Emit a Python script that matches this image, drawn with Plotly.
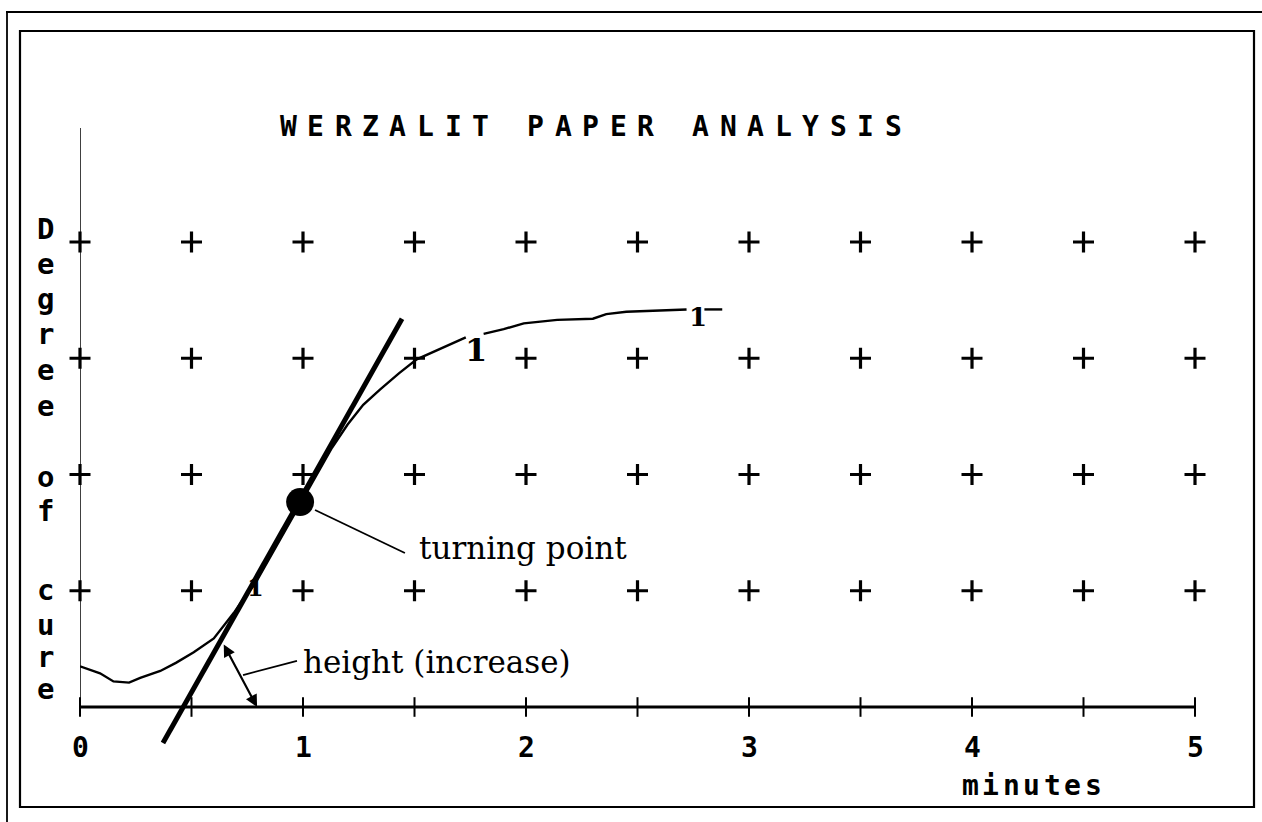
import plotly.graph_objects as go

# ---------------- data ----------------
title_text = "WERZALIT PAPER ANALYSIS"
x_title = "minutes"
y_title = "Degree of cure"

x_tick_values = [0, 1, 2, 3, 4, 5]
x_tick_labels = ["0", "1", "2", "3", "4", "5"]
grid_x = [0, 0.5, 1, 1.5, 2, 2.5, 3, 3.5, 4, 4.5, 5]
grid_y = [1, 2, 3, 4]

# cure curve (None = break around the "1" curve labels)
curve_x = [0.0, 0.05, 0.09, 0.15, 0.22, 0.27, 0.36, 0.43, 0.51, 0.60, 0.69, 0.74,
           0.785, 0.85, 0.92, 0.99, 1.06, 1.13, 1.20, 1.27, 1.345, 1.43, 1.51, 1.60,
           1.67, 1.73, None,
           1.81, 1.90, 1.99, 2.05, 2.14, 2.30, 2.36, 2.45, 2.59, 2.72, None,
           2.80, 2.88]
curve_y = [0.35, 0.32, 0.29, 0.22, 0.21, 0.25, 0.31, 0.38, 0.47, 0.59, 0.81, 0.95,
           1.06, 1.28, 1.52, 1.76, 2.00, 2.23, 2.43, 2.60, 2.73, 2.87, 2.99, 3.07,
           3.13, 3.18, None,
           3.21, 3.25, 3.30, 3.31, 3.33, 3.34, 3.38, 3.40, 3.41, 3.42, None,
           3.42, 3.42]

curve_label_x = [0.785, 1.776, 2.771]
curve_label_y = [1.03, 3.07, 3.355]
curve_label_text = ["1", "1", "1"]

tangent_x = [0.372, 1.444]
tangent_y = [-0.31, 3.34]

turning_x = [0.987]
turning_y = [1.763]

turning_leader_x = [1.054, 1.457]
turning_leader_y = [1.695, 1.325]
turning_label = "turning point"
turning_label_pos = (1.51, 1.37)

height_leader_x = [0.973, 0.731]
height_leader_y = [0.396, 0.275]
height_label = "height (increase)"
height_label_pos = (0.99, 0.385)
height_arrow_top = (0.641, 0.551)
height_arrow_bottom = (0.794, 0.0)

y_axis_top = 4.98

# ---------------- layout geometry ----------------
W, H = 1262, 822
PX_X0, PX_X5 = 80, 1195
PX_Y0, PX_Y4 = 707, 242
Y_MIN, Y_MAX = -0.6, 5.05
ppu_y = (PX_Y0 - PX_Y4) / 4.0
y_top_px = PX_Y0 - Y_MAX * ppu_y
y_bot_px = PX_Y0 - Y_MIN * ppu_y


def px(v):
    return v / W


def py(v):
    return 1 - v / H


MONO = "DejaVu Sans Mono"
SERIF = "DejaVu Serif"

fig = go.Figure()

# axis lines
fig.add_trace(go.Scatter(x=[0, 5], y=[0, 0], mode="lines",
                         line=dict(color="black", width=3), hoverinfo="skip"))
fig.add_trace(go.Scatter(x=[0, 0], y=[0, y_axis_top], mode="lines",
                         line=dict(color="black", width=1.5), hoverinfo="skip"))

# x tick marks on axis
fig.add_trace(go.Scatter(x=grid_x, y=[0] * len(grid_x), mode="markers",
                         marker=dict(symbol="line-ns", size=14,
                                     line=dict(color="black", width=2)),
                         hoverinfo="skip", cliponaxis=False))

# grid of plus signs
gx, gy = [], []
for yy in grid_y:
    for xx in grid_x:
        gx.append(xx)
        gy.append(yy)
fig.add_trace(go.Scatter(x=gx, y=gy, mode="markers",
                         marker=dict(symbol="cross-thin", size=15,
                                     line=dict(color="black", width=3.2)),
                         hoverinfo="skip", cliponaxis=False))

# curve
fig.add_trace(go.Scatter(x=curve_x, y=curve_y, mode="lines", connectgaps=False,
                         line=dict(color="black", width=2.4), hoverinfo="skip"))

# tangent
fig.add_trace(go.Scatter(x=tangent_x, y=tangent_y, mode="lines",
                         line=dict(color="black", width=5), hoverinfo="skip"))

# turning point
fig.add_trace(go.Scatter(x=turning_x, y=turning_y, mode="markers",
                         marker=dict(symbol="circle", size=28, color="black"),
                         hoverinfo="skip"))

# leader lines
fig.add_trace(go.Scatter(x=turning_leader_x, y=turning_leader_y, mode="lines",
                         line=dict(color="black", width=1.8), hoverinfo="skip"))
fig.add_trace(go.Scatter(x=height_leader_x, y=height_leader_y, mode="lines",
                         line=dict(color="black", width=1.8), hoverinfo="skip"))

annotations = []

# double-headed arrow for height
annotations.append(dict(x=height_arrow_bottom[0], y=height_arrow_bottom[1], xref="x", yref="y",
                        ax=height_arrow_top[0], ay=height_arrow_top[1], axref="x", ayref="y",
                        text="", showarrow=True, arrowhead=2, arrowsize=1.1, arrowwidth=2.2,
                        arrowside="end+start", arrowcolor="black"))

# annotation texts
annotations.append(dict(x=turning_label_pos[0], y=turning_label_pos[1], xref="x", yref="y",
                        text=turning_label, showarrow=False, xanchor="left", yanchor="middle",
                        font=dict(family=SERIF, size=31, color="black")))
annotations.append(dict(x=height_label_pos[0], y=height_label_pos[1], xref="x", yref="y",
                        text=height_label, showarrow=False, xanchor="left", yanchor="middle",
                        font=dict(family=SERIF, size=31, color="black")))

# curve labels "1"
label_sizes = [24, 32, 26]
for xx, yy, tt, ss in zip(curve_label_x, curve_label_y, curve_label_text, label_sizes):
    annotations.append(dict(x=xx, y=yy, xref="x", yref="y", text="<b>%s</b>" % tt,
                            showarrow=False, xanchor="center", yanchor="middle",
                            font=dict(family=SERIF, size=ss, color="black")))

# x tick labels
for v, t in zip(x_tick_values, x_tick_labels):
    annotations.append(dict(x=v, y=py(747), xref="x", yref="paper", text="<b>%s</b>" % t,
                            showarrow=False, xanchor="center", yanchor="middle",
                            font=dict(family=MONO, size=28, color="black")))

# title, letter spaced
spaced_title = "   ".join(" ".join(w) for w in title_text.split(" "))
adv = 13.75
for i, ch in enumerate(spaced_title):
    if ch == " ":
        continue
    annotations.append(dict(x=px(288 + i * adv), y=py(126), xref="paper", yref="paper",
                            text="<b>%s</b>" % ch, showarrow=False,
                            xanchor="center", yanchor="middle",
                            font=dict(family=MONO, size=28, color="black")))

# x axis title, letter spaced
for i, ch in enumerate(x_title):
    annotations.append(dict(x=px(970 + i * 20.5), y=py(785), xref="paper", yref="paper",
                            text="<b>%s</b>" % ch, showarrow=False,
                            xanchor="center", yanchor="middle",
                            font=dict(family=MONO, size=28, color="black")))

# y axis title, stacked vertically
y_rows = [229, 264, 299, 334, 370, 406, 477, 511, 590, 625, 657, 689]
letters = [c for c in y_title if c != " "]
for ch, r in zip(letters, y_rows):
    annotations.append(dict(x=px(45), y=py(r), xref="paper", yref="paper",
                            text="<b>%s</b>" % ch, showarrow=False,
                            xanchor="center", yanchor="middle",
                            font=dict(family=MONO, size=29, color="black")))

shapes = [
    # inner frame
    dict(type="rect", xref="paper", yref="paper", x0=px(20), x1=px(1254),
         y0=py(807), y1=py(31), line=dict(color="black", width=2.2)),
    # outer scan edges
    dict(type="line", xref="paper", yref="paper", x0=px(6), x1=px(1262),
         y0=py(12), y1=py(12), line=dict(color="black", width=2)),
    dict(type="line", xref="paper", yref="paper", x0=px(7), x1=px(7),
         y0=py(12), y1=py(822), line=dict(color="black", width=1.8)),
]

fig.update_layout(
    width=W, height=H,
    margin=dict(l=0, r=0, t=0, b=0),
    paper_bgcolor="white", plot_bgcolor="white",
    showlegend=False,
    xaxis=dict(domain=[px(PX_X0), px(PX_X5)], range=[0, 5], visible=False),
    yaxis=dict(domain=[py(y_bot_px), py(y_top_px)], range=[Y_MIN, Y_MAX], visible=False),
    annotations=annotations,
    shapes=shapes,
)

fig.write_html("out.html", config={"displayModeBar": False},
               post_script="document.body.style.margin='0';")
